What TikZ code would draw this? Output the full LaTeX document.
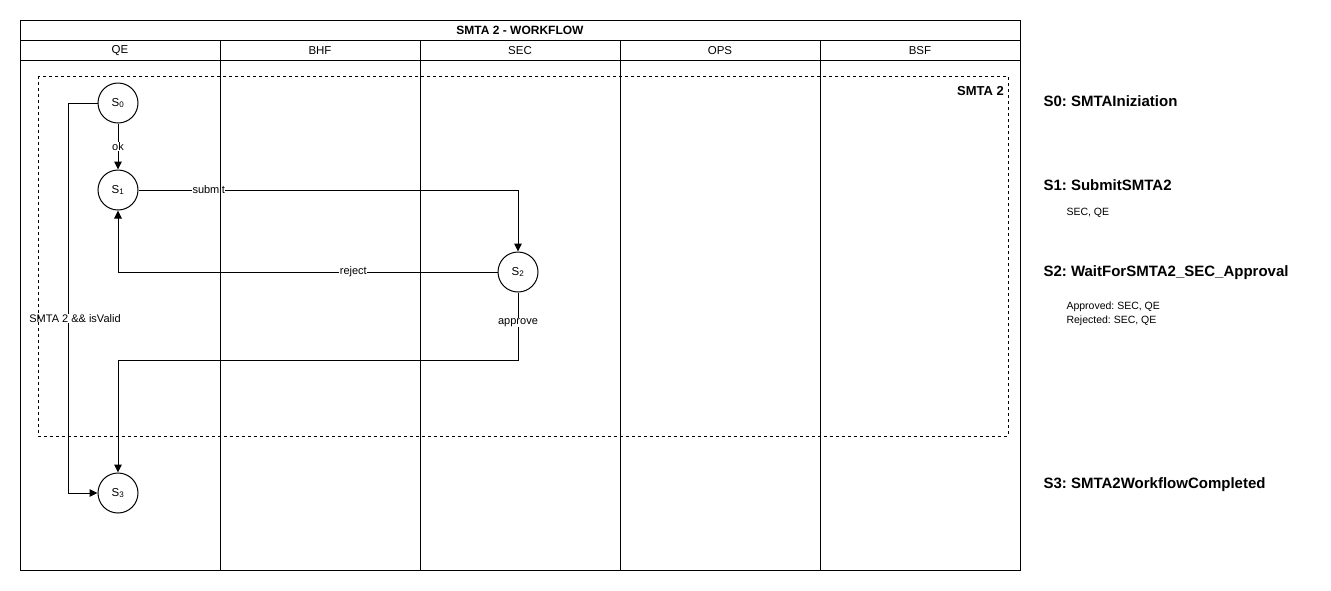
\documentclass[tikz,border=0pt]{standalone}
\usepackage{fontspec}
\setmainfont{Liberation Sans}
\usetikzlibrary{arrows.meta}
\frenchspacing
\begin{document}
\begin{tikzpicture}[x=1pt,y=-1pt,
  state/.style={draw,circle,minimum size=40pt,inner sep=0pt,line width=1pt,font=\fontsize{11.5}{13}\selectfont},
  lbl/.style={fill=white,inner sep=0.5pt,font=\fontsize{11}{13}\selectfont},
  edge/.style={line width=1pt,-{Triangle[length=8pt,width=7.5pt]}},
  hdr/.style={font=\fontsize{11.5}{13}\selectfont},
  legh/.style={anchor=west,font=\fontsize{15}{18}\selectfont\bfseries},
  legt/.style={anchor=west,font=\fontsize{10.5}{14.5}\selectfont}]
\useasboundingbox (0,0) rectangle (1331,590);
% states
\node[state] (s0) at (118,103) {S\textsubscript{0}};
\node[state] (s1) at (118,190) {S\textsubscript{1}};
\node[state] (s2) at (518,272) {S\textsubscript{2}};
\node[state] (s3) at (118,493) {S\textsubscript{3}};
\coordinate (c1) at (518,190);
\coordinate (c2) at (118,272);
\coordinate (c3a) at (518,360);
\coordinate (c3b) at (118,360);
\coordinate (c4a) at (68,103);
\coordinate (c4b) at (68,493);
% edges
\draw[edge] (s0) -- node[lbl]{ok} (s1);
\draw[edge] (s1.east) -- node[lbl,pos=0.185]{submit} (c1) -- (s2.north);
\draw[edge] (s2.west) -- node[lbl,pos=0.38]{reject} (c2) -- (s1.south);
\draw[edge] (s2.south) -- node[lbl,pos=0.44]{approve} (c3a) -- (c3b) -- (s3.north);
\draw[edge] (s0.west) -- (c4a) -- node[lbl,pos=0.553,xshift=7pt]{SMTA 2 \&\& isValid} (c4b) -- (s3.west);
% pool and lanes
\draw[line width=1pt] (20,20) rectangle (1020,570);
\draw[line width=1pt] (20,40) -- (1020,40);
\draw[line width=1pt] (20,60) -- (1020,60);
\foreach \x in {220,420,620,820} \draw[line width=1pt] (\x,40) -- (\x,570);
\node[font=\fontsize{12}{14}\selectfont\bfseries] (title) at (520,30.5) {SMTA 2 - WORKFLOW};
\node[hdr] (l1) at (120,50.5) {QE};
\node[hdr] (l2) at (320,50.5) {BHF};
\node[hdr] (l3) at (520,50.5) {SEC};
\node[hdr] (l4) at (720,50.5) {OPS};
\node[hdr] (l5) at (920,50.5) {BSF};
% dashed group
\draw[line width=0.8pt,dash pattern=on 3pt off 3pt] (38,76) rectangle (1008,436);
\node[anchor=east,inner sep=0pt,font=\fontsize{13}{15}\selectfont\bfseries] (grp) at (1004,91) {SMTA 2};
% legend
\node[legh] (t0) at (1040,101) {S0:\ SMTAIniziation};
\node[legh] (t1) at (1040,185) {S1:\ SubmitSMTA2};
\node[legt] (t1a) at (1063,213) {SEC, QE};
\node[legh] (t2) at (1040,273) {S2:\ WaitForSMTA2\_SEC\_Approval};
\node[legt,align=left] (t2a) at (1063,314) {Approved: SEC, QE\\Rejected: SEC, QE};
\node[legh] (t3) at (1040,485) {S3:\ SMTA2WorkflowCompleted};
\end{tikzpicture}
\end{document}
